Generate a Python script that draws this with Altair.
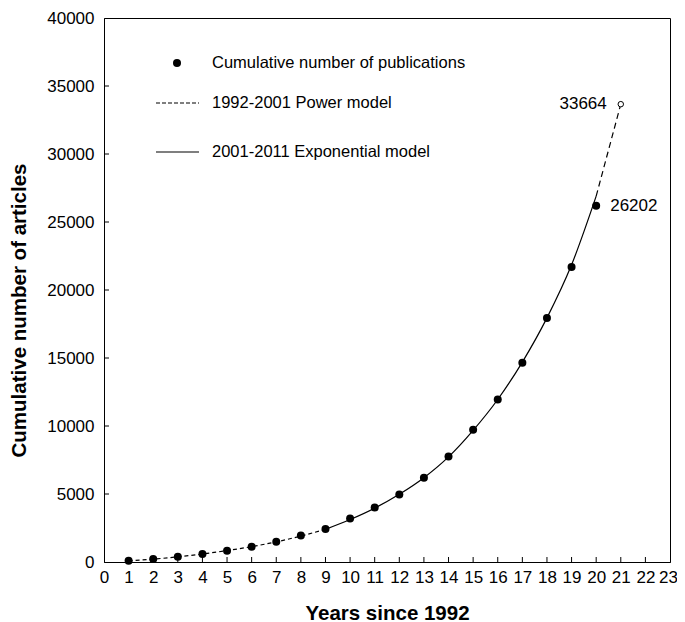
import altair as alt
import pandas as pd

# ---------------- data ----------------
years = list(range(1, 21))
cumulative = [100, 220, 390, 585, 830, 1120, 1490, 1940, 2435, 3195,
              4000, 4970, 6190, 7750, 9725, 11940, 14650, 17940, 21700, 26202]

power_years = [1, 2, 3, 4, 5, 6, 7, 8, 9]
power_values = [80, 210, 380, 590, 840, 1130, 1480, 1910, 2400]

exp_years = [9, 10, 11, 12, 13, 14, 15, 16, 17, 18, 19, 20]
exp_values = [2400, 3120, 3960, 4980, 6200, 7730, 9680, 11950, 14700, 17950, 21850, 26900]

proj_years = [20, 21]
proj_values = [26900, 33664]

label_years = [21, 20]
label_values = [33664, 26202]
label_texts = ["33664", "26202"]

x_ticks = list(range(0, 24))
y_ticks = list(range(0, 40001, 5000))

legend_labels = ["Cumulative number of publications",
                 "1992-2001 Power model",
                 "2001-2011 Exponential model"]

# ---------------- layout ----------------
FONT = "Liberation Sans"
W, H = 566, 544
TICK_FS = 17

xs = alt.Scale(domain=[0, 23], nice=False, zero=False)
ys = alt.Scale(domain=[0, 40000], nice=False, zero=False)


def X(field="x"):
    return alt.X(f"{field}:Q", scale=xs,
                 axis=alt.Axis(values=x_ticks, title="Years since 1992",
                               labelOffset=alt.expr("datum.value == 23 ? -2 : 0")))


def Y(field="y"):
    return alt.Y(f"{field}:Q", scale=ys,
                 axis=alt.Axis(values=y_ticks, format="d",
                               title="Cumulative number of articles"))


pts_df = pd.DataFrame({"x": years, "y": cumulative})
pow_df = pd.DataFrame({"x": power_years, "y": power_values})
exp_df = pd.DataFrame({"x": exp_years, "y": exp_values})
proj_df = pd.DataFrame({"x": proj_years, "y": proj_values})
open_df = pd.DataFrame({"x": proj_years[1:], "y": proj_values[1:]})
lab_df = pd.DataFrame({"x": label_years, "y": label_values, "t": label_texts})
xt_df = pd.DataFrame({"x": x_ticks[1:-1]})
yt_df = pd.DataFrame({"y": y_ticks[1:-1]})
one = pd.DataFrame({"a": [0]})

power_line = alt.Chart(pow_df).mark_line(
    color="black", strokeWidth=1.2, strokeDash=[4, 3], interpolate="monotone"
).encode(x=X(), y=Y())

exp_line = alt.Chart(exp_df).mark_line(
    color="black", strokeWidth=1.2, interpolate="monotone"
).encode(x=X(), y=Y())

proj_line = alt.Chart(proj_df).mark_line(
    color="black", strokeWidth=1.2, strokeDash=[6, 4]
).encode(x=X(), y=Y())

points = alt.Chart(pts_df).mark_point(
    filled=True, color="black", size=64, opacity=1, shape="circle"
).encode(x=X(), y=Y())

open_pt = alt.Chart(open_df).mark_point(
    shape="circle", fill="white", filled=True, stroke="black", strokeWidth=1,
    size=30, opacity=1
).encode(x=X(), y=Y())

lab_left = alt.Chart(lab_df.iloc[[0]]).mark_text(
    align="right", baseline="middle", dx=-14, font=FONT, fontSize=TICK_FS, color="black"
).encode(x=X(), y=Y(), text="t:N")

lab_right = alt.Chart(lab_df.iloc[[1]]).mark_text(
    align="left", baseline="middle", dx=14, font=FONT, fontSize=TICK_FS, color="black"
).encode(x=X(), y=Y(), text="t:N")

x_tick_marks = alt.Chart(xt_df).mark_rule(color="black", strokeWidth=1).encode(
    x=X(), y=alt.value(H), y2=alt.value(H - 5))

y_tick_marks = alt.Chart(yt_df).mark_rule(color="black", strokeWidth=1).encode(
    y=Y(), x=alt.value(0), x2=alt.value(5))

# legend (drawn in plot pixel space)
leg_dot = alt.Chart(one).mark_point(
    filled=True, color="black", size=64, opacity=1, shape="circle"
).encode(x=alt.value(73), y=alt.value(45))
leg_dash = alt.Chart(one).mark_rule(color="black", strokeWidth=1.2, strokeDash=[4, 2]).encode(
    x=alt.value(52), x2=alt.value(95), y=alt.value(85))
leg_solid = alt.Chart(one).mark_rule(color="black", strokeWidth=1.2).encode(
    x=alt.value(52), x2=alt.value(95), y=alt.value(134))
leg_texts = [
    alt.Chart(one).mark_text(align="left", baseline="middle", font=FONT,
                             fontSize=16.5, color="black").encode(
        x=alt.value(108), y=alt.value(yy), text=alt.value(txt))
    for txt, yy in zip(legend_labels, [45, 85, 134])
]

chart = alt.layer(
    power_line, exp_line, proj_line, points, open_pt, lab_left, lab_right,
    x_tick_marks, y_tick_marks, leg_dot, leg_dash, leg_solid, *leg_texts
).properties(
    width=W, height=H,
    autosize=alt.AutoSizeParams(type="none"),
    padding={"left": 96, "top": 10, "right": 7, "bottom": 60},
).configure_view(
    stroke="black", strokeWidth=1
).configure_axis(
    domainColor="black", domainWidth=1, grid=False, ticks=False,
    labelFont=FONT, labelFontSize=TICK_FS, labelColor="black",
    titleFont=FONT, titleFontSize=20.5, titleFontWeight="bold", titleColor="black",
    labelOverlap=False,
).configure_axisX(
    labelPadding=7, labelFlush=False, titleY=57, titleBaseline="alphabetic",
).configure_axisY(
    labelPadding=10, titleAngle=270, titleX=-79, titleY=292,
    titleBaseline="alphabetic", titleAlign="center",
)

chart.save("out.html", embed_options={"renderer": "svg", "actions": False})
